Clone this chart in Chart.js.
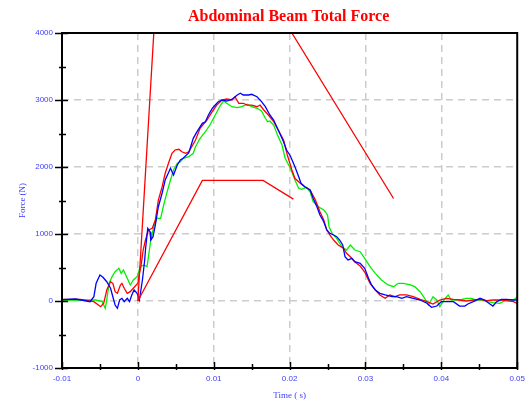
<!DOCTYPE html>
<html>
<head>
<meta charset="utf-8">
<script src="https://cdn.jsdelivr.net/npm/chart.js@4/dist/chart.umd.min.js"></script>
<style>
  html, body { margin: 0; padding: 0; background: #fff; }
  #wrap { width: 531px; height: 401px; position: relative; }
</style>
</head>
<body>
<div id="wrap"><canvas id="chart"></canvas></div>
<script>
// Eixos
var xMin = -0.01, xMax = 0.05, xStep = 0.005;
var yMin = -1000, yMax = 4000, yStep = 500;

// Corredor (limites superior e inferior)
var upperT = [0, 0.0021, 0.0203, 0.0337];
var upperF = [0, 4000, 4000, 1530];
var lowerT = [0, 0.0085, 0.0165, 0.0205];
var lowerF = [0, 1800, 1800, 1520];

// Curva azul
var blueT = [-0.01, -0.0082, -0.0063, -0.0058, -0.0055, -0.005, -0.0046, -0.0041, -0.0036, -0.0033, -0.003, -0.0027, -0.0024, -0.0021, -0.0018, -0.0014, -0.0011, -0.0008, -0.0005, -0.0001,
  0.0002, 0.0006, 0.0009, 0.001, 0.0013, 0.0016, 0.0017, 0.002, 0.0023, 0.0027, 0.0032, 0.0036, 0.0043, 0.0047, 0.0052, 0.0056, 0.006, 0.0067, 0.0069, 0.0073,
  0.0078, 0.0085, 0.0089, 0.0093, 0.0098, 0.0102, 0.0106, 0.0111, 0.0117, 0.0122, 0.0126, 0.0131, 0.0135, 0.0139, 0.0146, 0.015, 0.0157, 0.0163, 0.0168, 0.0174,
  0.0179, 0.0183, 0.0188, 0.0192, 0.0196, 0.0201, 0.0207, 0.0212, 0.0215, 0.022, 0.0227, 0.0231, 0.0236, 0.024, 0.0245, 0.0249, 0.0253, 0.0258, 0.0262, 0.0266,
  0.027, 0.0273, 0.0277, 0.0282, 0.0286, 0.0293, 0.0299, 0.0304, 0.0308, 0.0313, 0.0319, 0.0326, 0.0335, 0.0341, 0.0348, 0.0354, 0.0363, 0.0372, 0.0381, 0.0387,
  0.0394, 0.04, 0.0407, 0.0416, 0.0424, 0.0431, 0.0435, 0.0442, 0.0451, 0.0457, 0.0464, 0.0468, 0.0473, 0.0479, 0.0486, 0.0495, 0.05];
var blueF = [20, 30, -10, 64, 264, 388, 354, 288, 190, 64, -60, -109, 15, 40, -10, 40, -10, 90, 164, 115,
  15, 313, 612, 761, 1085, 1034, 910, 960, 1134, 1407, 1612, 1806, 1981, 1881, 2030, 2104, 2134, 2209, 2279, 2428,
  2527, 2652, 2676, 2776, 2876, 2925, 2975, 3000, 2985, 3000, 3025, 3075, 3100, 3075, 3075, 3085, 3049, 2975, 2900, 2776,
  2701, 2601, 2478, 2378, 2254, 2164, 2004, 1855, 1757, 1706, 1657, 1533, 1407, 1284, 1184, 1060, 1010, 985, 960, 910,
  836, 661, 612, 637, 587, 563, 488, 339, 239, 164, 115, 90, 64, 64, 40, 64, 40, 15, -34, -94,
  -75, -10, -10, -10, -75, -75, -45, -10, 40, 15, -45, -75, -10, 25, 25, 15, 15];

// Curva vermelha
var redT = [-0.01, -0.0076, -0.0058, -0.0049, -0.0045, -0.0041, -0.0036, -0.0033, -0.003, -0.0027, -0.0023, -0.0021, -0.0018, -0.0014, -0.001, -0.0006, 0, 0.0002, 0.0004, 0.0007,
  0.001, 0.0014, 0.0019, 0.0023, 0.0027, 0.0032, 0.0036, 0.0041, 0.0045, 0.0049, 0.0054, 0.0058, 0.0063, 0.0067, 0.0071, 0.0076, 0.0082, 0.0091, 0.0098, 0.0104,
  0.0111, 0.0117, 0.0124, 0.0128, 0.0133, 0.0139, 0.0144, 0.015, 0.0157, 0.0161, 0.0166, 0.0172, 0.0179, 0.0185, 0.0192, 0.0197, 0.0203, 0.0207, 0.0214, 0.022,
  0.0227, 0.0234, 0.024, 0.0245, 0.0249, 0.0253, 0.0258, 0.0264, 0.0271, 0.0275, 0.028, 0.0286, 0.0293, 0.0299, 0.0306, 0.0313, 0.0319, 0.0326, 0.0332, 0.0339,
  0.0345, 0.0354, 0.0363, 0.0372, 0.0381, 0.0389, 0.0398, 0.0407, 0.0416, 0.0424, 0.0433, 0.0442, 0.0451, 0.046, 0.0468, 0.0477, 0.0486, 0.0495, 0.05];
var redF = [25, 25, -10, -85, -34, 164, 288, 264, 139, 115, 239, 264, 190, 115, 139, 190, 264, 413, 512, 761,
  910, 1060, 1085, 1209, 1507, 1706, 1906, 2079, 2204, 2254, 2264, 2228, 2204, 2228, 2303, 2403, 2578, 2701, 2825, 2925,
  3000, 3015, 3000, 3049, 2951, 2951, 2925, 2925, 2900, 2925, 2851, 2776, 2676, 2552, 2403, 2179, 1955, 1831, 1757, 1706,
  1657, 1507, 1333, 1209, 1060, 985, 910, 836, 787, 712, 661, 582, 522, 433, 264, 164, 90, 40, 90, 64,
  90, 90, 64, 25, -10, -45, 15, 40, 25, 15, 0, 15, 25, 5, 15, 15, 5, -10, -34];

// Curva verde
var greenT = [-0.01, -0.0076, -0.0056, -0.0047, -0.0043, -0.0041, -0.0038, -0.0034, -0.003, -0.0025, -0.0022, -0.0019, -0.0014, -0.001, -0.0006, -0.0001, 0.0003, 0.0008, 0.0012, 0.0014,
  0.0017, 0.0021, 0.0025, 0.003, 0.0034, 0.0038, 0.0043, 0.0047, 0.0052, 0.0056, 0.006, 0.0067, 0.0073, 0.0076, 0.0082, 0.0089, 0.0095, 0.0102, 0.0109, 0.0113,
  0.0117, 0.0124, 0.0131, 0.0137, 0.0144, 0.015, 0.0157, 0.0163, 0.0168, 0.0171, 0.0174, 0.0179, 0.0184, 0.019, 0.0194, 0.0201, 0.0207, 0.0212, 0.0216, 0.0222,
  0.0227, 0.0231, 0.0238, 0.0245, 0.025, 0.0252, 0.0256, 0.0262, 0.0269, 0.0275, 0.028, 0.0286, 0.0293, 0.0299, 0.0306, 0.0313, 0.0321, 0.033, 0.0337, 0.0343,
  0.035, 0.0359, 0.0365, 0.0372, 0.0378, 0.0383, 0.0389, 0.0394, 0.0398, 0.0405, 0.0409, 0.0413, 0.042, 0.0427, 0.0433, 0.044, 0.0446, 0.0453, 0.046, 0.0468,
  0.0477, 0.0486, 0.0495, 0.05];
var greenF = [10, 15, 15, -10, -109, 15, 264, 363, 437, 488, 413, 463, 339, 239, 313, 363, 512, 537, 512, 661,
  910, 1109, 1234, 1234, 1433, 1607, 1806, 1955, 2055, 2079, 2130, 2154, 2204, 2303, 2428, 2527, 2627, 2776, 2925, 2985,
  2951, 2900, 2885, 2900, 2936, 2900, 2876, 2836, 2727, 2676, 2687, 2627, 2478, 2328, 2134, 1981, 1806, 1682, 1667, 1697,
  1631, 1482, 1407, 1358, 1284, 1109, 1010, 936, 810, 761, 836, 761, 736, 637, 512, 413, 313, 239, 214, 264,
  264, 239, 214, 139, 40, -60, 64, 15, -85, 40, 90, 15, 15, 25, 40, 40, 15, 15, -10, -25,
  -34, 15, 15, 60];

function toPoints(ts, fs) {
  return ts.map(function (t, i) { return { x: t, y: fs[i] }; });
}

function isMajor(v, step) {
  var k = v / step;
  return Math.abs(k - Math.round(k)) < 1e-6;
}

var labelBlue = '#3c3cff';

// Moldura preta e marcas dos eixos (atravessando a linha do eixo)
var framePlugin = {
  id: 'frame',
  afterDatasetsDraw: function (chart) {
    var ctx = chart.ctx, a = chart.chartArea;
    var xs = chart.scales.x, ys = chart.scales.y;
    ctx.save();
    ctx.strokeStyle = '#000';
    ctx.lineWidth = 1.5;
    ctx.beginPath();
    ys.ticks.forEach(function (tk) {
      var p = Math.round(ys.getPixelForValue(tk.value)) + 0.5;
      var major = isMajor(tk.value, 1000);
      ctx.moveTo(a.left - (major ? 7 : 3), p);
      ctx.lineTo(a.left + (major ? 6 : 4), p);
    });
    xs.ticks.forEach(function (tk) {
      var p = Math.round(xs.getPixelForValue(tk.value)) + 0.5;
      var major = isMajor(tk.value, 0.01);
      ctx.moveTo(p, a.bottom - (major ? 6 : 4));
      ctx.lineTo(p, a.bottom + 2);
    });
    ctx.stroke();
    ctx.lineWidth = 2;
    ctx.strokeRect(a.left, a.top, a.right - a.left, a.bottom - a.top);
    ctx.restore();
  }
};

function lineSet(data, color) {
  return {
    data: data,
    borderColor: color,
    backgroundColor: color,
    borderWidth: 1.3,
    pointRadius: 0,
    showLine: true,
    tension: 0,
    fill: false
  };
}

var ctx = document.getElementById('chart').getContext('2d');
new Chart(ctx, {
  type: 'scatter',
  data: {
    datasets: [
      lineSet(toPoints(upperT, upperF), '#ff0000'),
      lineSet(toPoints(lowerT, lowerF), '#ff0000'),
      lineSet(toPoints(blueT, blueF), '#0000ff'),
      lineSet(toPoints(redT, redF), '#ff0000'),
      lineSet(toPoints(greenT, greenF), '#00f000')
    ]
  },
  options: {
    responsive: true,
    maintainAspectRatio: false,
    animation: false,
    layout: { padding: { top: 33, right: 13, left: 0, bottom: 0 } },
    plugins: {
      legend: { display: false },
      tooltip: { enabled: false },
      title: { display: false }
    },
    scales: {
      x: {
        type: 'linear',
        min: xMin,
        max: xMax,
        afterFit: function (s) { s.height = 33; },
        ticks: {
          stepSize: xStep,
          autoSkip: false,
          maxRotation: 0,
          padding: 6,
          color: labelBlue,
          font: { family: 'Liberation Sans', size: 8 },
          callback: function (v) {
            if (!isMajor(v, 0.01)) return '';
            return Math.abs(v) < 1e-9 ? '0' : v.toFixed(2);
          }
        },
        grid: {
          drawTicks: false,
          lineWidth: 1.5,
          color: function (c) {
            var v = c.tick.value;
            if (!isMajor(v, 0.01) || Math.abs(v - xMin) < 1e-9 || Math.abs(v - xMax) < 1e-9) return 'rgba(0,0,0,0)';
            return '#cccccc';
          }
        },
        border: { display: false, dash: [7, 5] },
        title: {
          display: true,
          text: 'Time ( s)',
          color: labelBlue,
          font: { family: 'Liberation Serif', size: 9 },
          padding: { top: 0, bottom: 0 }
        }
      },
      y: {
        type: 'linear',
        min: yMin,
        max: yMax,
        afterFit: function (s) { s.width = 62; },
        ticks: {
          stepSize: yStep,
          autoSkip: false,
          padding: 9,
          color: labelBlue,
          font: { family: 'Liberation Sans', size: 8 },
          callback: function (v) {
            return isMajor(v, 1000) ? String(v) : '';
          }
        },
        grid: {
          drawTicks: false,
          lineWidth: 1.5,
          color: function (c) {
            var v = c.tick.value;
            if (!isMajor(v, 1000) || v === yMin || v === yMax) return 'rgba(0,0,0,0)';
            return '#cccccc';
          }
        },
        border: { display: false, dash: [7, 5] },
        title: {
          display: true,
          text: 'Force (N)',
          color: labelBlue,
          font: { family: 'Liberation Serif', size: 9 },
          padding: { top: 17, bottom: 0 }
        }
      }
    }
  },
  plugins: [framePlugin, {
    id: 'chartTitle',
    afterDraw: function (chart) {
      var c = chart.ctx, a = chart.chartArea;
      c.save();
      c.fillStyle = '#ff0000';
      c.font = 'bold 16px "Liberation Serif"';
      c.textAlign = 'center';
      c.textBaseline = 'middle';
      c.fillText('Abdominal Beam Total Force', (a.left + a.right) / 2 - 1, 17);
      c.restore();
    }
  }]
});
</script>
</body>
</html>
